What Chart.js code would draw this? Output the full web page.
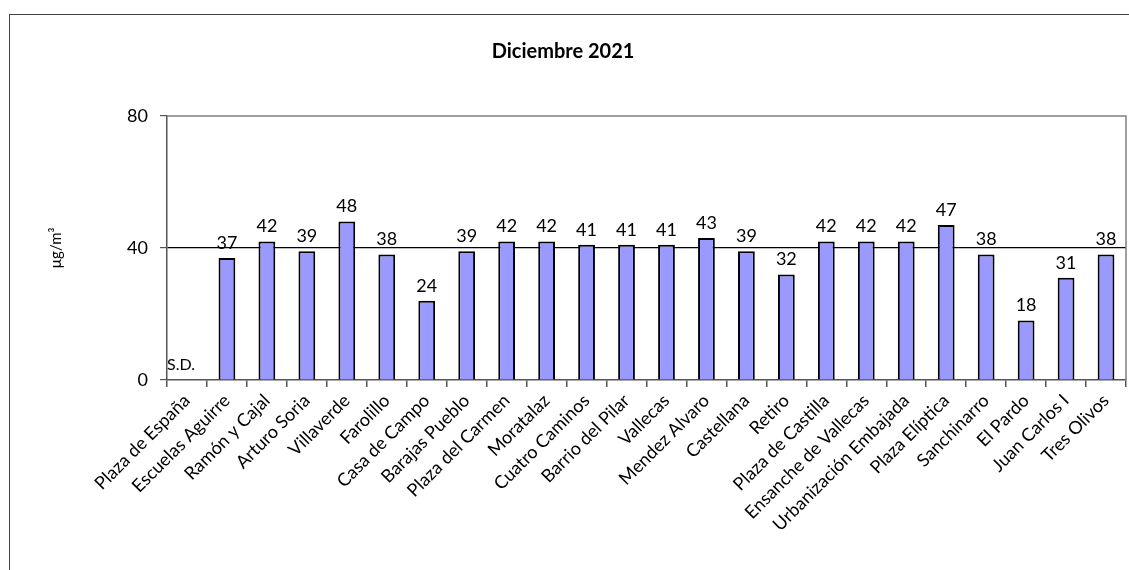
<!DOCTYPE html>
<html>
<head>
<meta charset="utf-8">
<script src="https://cdn.jsdelivr.net/npm/chart.js@4.4.1/dist/chart.umd.min.js"></script>
<style>
  html, body { margin: 0; padding: 0; background: #fff; }
  #wrap { position: relative; width: 1129px; height: 570px; overflow: hidden; }
  #frame { position: absolute; left: 9px; top: 14px; width: 1200px; height: 600px;
           border-left: 1px solid #444; border-top: 1px solid #444; }
  canvas { position: absolute; left: 0; top: 0; }
</style>
</head>
<body>
<div id="wrap">
  <div id="frame"></div>
  <canvas id="chart" width="1129" height="570"></canvas>
</div>
<script>
// ===== DATA =====
const STATIONS = [
  'Plaza de España', 'Escuelas Aguirre', 'Ramón y Cajal', 'Arturo Soria', 'Villaverde',
  'Farolillo', 'Casa de Campo', 'Barajas Pueblo', 'Plaza del Carmen', 'Moratalaz',
  'Cuatro Caminos', 'Barrio del Pilar', 'Vallecas', 'Mendez Alvaro', 'Castellana',
  'Retiro', 'Plaza de Castilla', 'Ensanche de Vallecas', 'Urbanización Embajada', 'Plaza Elíptica',
  'Sanchinarro', 'El Pardo', 'Juan Carlos I', 'Tres Olivos'
];
const NO2_VALUES = [
  null, 37, 42, 39, 48,
  38, 24, 39, 42, 42,
  41, 41, 41, 43, 39,
  32, 42, 42, 42, 47,
  38, 18, 31, 38
];
const NO_DATA_TEXT = 'S.D.';
const Y_TICKS = [0, 40, 80];

const FONT = 'Lato, "Open Sans", sans-serif';

// ======== VALUE LABELS ========
const valueLabels = {
  id: 'valueLabels',
  afterDatasetsDraw(chart) {
    const { ctx } = chart;
    const meta = chart.getDatasetMeta(0);
    const yScale = chart.scales.y;
    ctx.save();
    ctx.fillStyle = '#000';
    ctx.textAlign = 'center';
    ctx.textBaseline = 'bottom';
    meta.data.forEach((bar, i) => {
      const v = NO2_VALUES[i];
      if (v === null) {
        ctx.font = '16px ' + FONT;
        ctx.fillText(NO_DATA_TEXT, bar.x - 6, yScale.getPixelForValue(0) - 7);
      } else {
        ctx.font = '18px ' + FONT;
        ctx.fillText(String(v), bar.x, bar.y - 6);
      }
    });
    ctx.restore();
  }
};

// ======== PLOT FRAME (top + right grey edges) ========
const plotFrame = {
  id: 'plotFrame',
  beforeDatasetsDraw(chart) {
    const { ctx, chartArea: a } = chart;
    ctx.save();
    ctx.strokeStyle = '#808080';
    ctx.lineWidth = 1.5;
    ctx.beginPath();
    ctx.moveTo(a.left, a.top);
    ctx.lineTo(a.right, a.top);
    ctx.lineTo(a.right, a.bottom);
    ctx.stroke();
    ctx.restore();
  }
};

new Chart(document.getElementById('chart'), {
  type: 'bar',
  data: {
    labels: STATIONS,
    datasets: [{
      data: NO2_VALUES,
      backgroundColor: '#9999ff',
      borderColor: '#000',
      borderWidth: 2,
      barPercentage: 0.42,
      categoryPercentage: 1,
    }],
  },
  options: {
    responsive: false,
    animation: false,
    layout: { padding: { left: 0, right: 3, top: 0, bottom: 0 } },
    plugins: {
      legend: { display: false },
      tooltip: { enabled: false },
      title: {
        display: true,
        text: 'Diciembre 2021',
        color: '#000',
        font: { family: FONT, size: 20, weight: 'bold' },
        padding: { top: 40, bottom: 52 },
      },
    },
    scales: {
      x: {
        grid: { display: true, drawOnChartArea: false, offset: true, color: '#555', lineWidth: 1.5, tickLength: 7 },
        border: { color: '#555', width: 1.5 },
        ticks: {
          color: '#000',
          font: { family: FONT, size: 18 },
          maxRotation: 45, minRotation: 45, autoSkip: false, padding: 3,
        },
        afterFit(scale) { scale.height = 190; },
      },
      y: {
        min: 0, max: 80,
        afterBuildTicks(scale) { scale.ticks = Y_TICKS.map(v => ({ value: v })); },
        grid: {
          color: ctx => ctx.tick && ctx.tick.value === 40 ? '#000' : 'rgba(0,0,0,0)',
          lineWidth: 1.2,
          tickColor: '#555', tickLength: 7,
        },
        border: { color: '#555', width: 1.5 },
        ticks: { color: '#000', font: { family: FONT, size: 18 }, padding: 12 },
        title: {
          display: true, text: 'µg/m³', color: '#000',
          font: { family: FONT, size: 15 }, padding: { top: 47, bottom: 0 },
        },
        afterFit(scale) { scale.width = 167; },
      },
    },
  },
  plugins: [plotFrame, valueLabels],
});
</script>
</body>
</html>
